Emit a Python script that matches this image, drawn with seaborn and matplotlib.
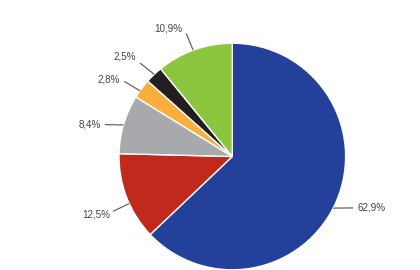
import numpy as np
import matplotlib
matplotlib.use("Agg")
import matplotlib.pyplot as plt
import seaborn as sns

values = [62.9, 12.5, 8.4, 2.8, 2.5, 10.9]
labels = ["62,9%", "12,5%", "8,4%", "2,8%", "2,5%", "10,9%"]
colors = ["#23409A", "#C0291B", "#A8A9AC", "#F9AE3E", "#231F20", "#8CC63F"]

# label layout nudges (degrees for leader start / end, px for text offset)
start_nudge = [-3.9, 3.5, 0.4, 1.3, -0.2, 0.6]
end_nudge = [0.2, 3.6, 2.5, 1.9, 0.9, 0.9]
text_off = [(4, 0), (-3, -3), (-4, 0), (-5, 2), (-4, 6), (-4, 5)]

sns.set_style("white")
plt.rcParams["font.family"] = ["Liberation Sans", "DejaVu Sans"]

fig = plt.figure(figsize=(4.2, 2.7), dpi=100)
ax = fig.add_axes([0, 0, 1, 1])

cx, cy, R = 232.3, 113.5, 113.3
ax.pie(values, colors=colors, startangle=90, counterclock=False,
       center=(cx, cy), radius=R, frame=True,
       wedgeprops=dict(edgecolor="white", linewidth=1.0))
ax.set_xlim(0, 420)
ax.set_ylim(0, 270)
ax.set_aspect("equal")
ax.axis("off")

total = sum(values)
start = 90.0
for v, lab, sn, en, (tx, ty) in zip(values, labels, start_nudge, end_nudge, text_off):
    sweep = v / total * 360.0
    mid = start - sweep / 2
    start -= sweep
    a0, a1 = np.deg2rad(mid + sn), np.deg2rad(mid + en)
    x0, y0 = cx + R * np.cos(a0), cy + R * np.sin(a0)
    x1, y1 = cx + R * 1.16 * np.cos(a1), cy + R * 1.16 * np.sin(a1)
    ax.plot([x0, x1], [y0, y1], color="#666666", lw=0.9, solid_capstyle="butt")
    ax.text(x1 + tx, y1 + ty, lab, ha="left" if np.cos(a1) >= 0 else "right",
            va="center", fontsize=7.1, color="#444444")

fig.savefig("out.png", dpi=100, facecolor="white")
